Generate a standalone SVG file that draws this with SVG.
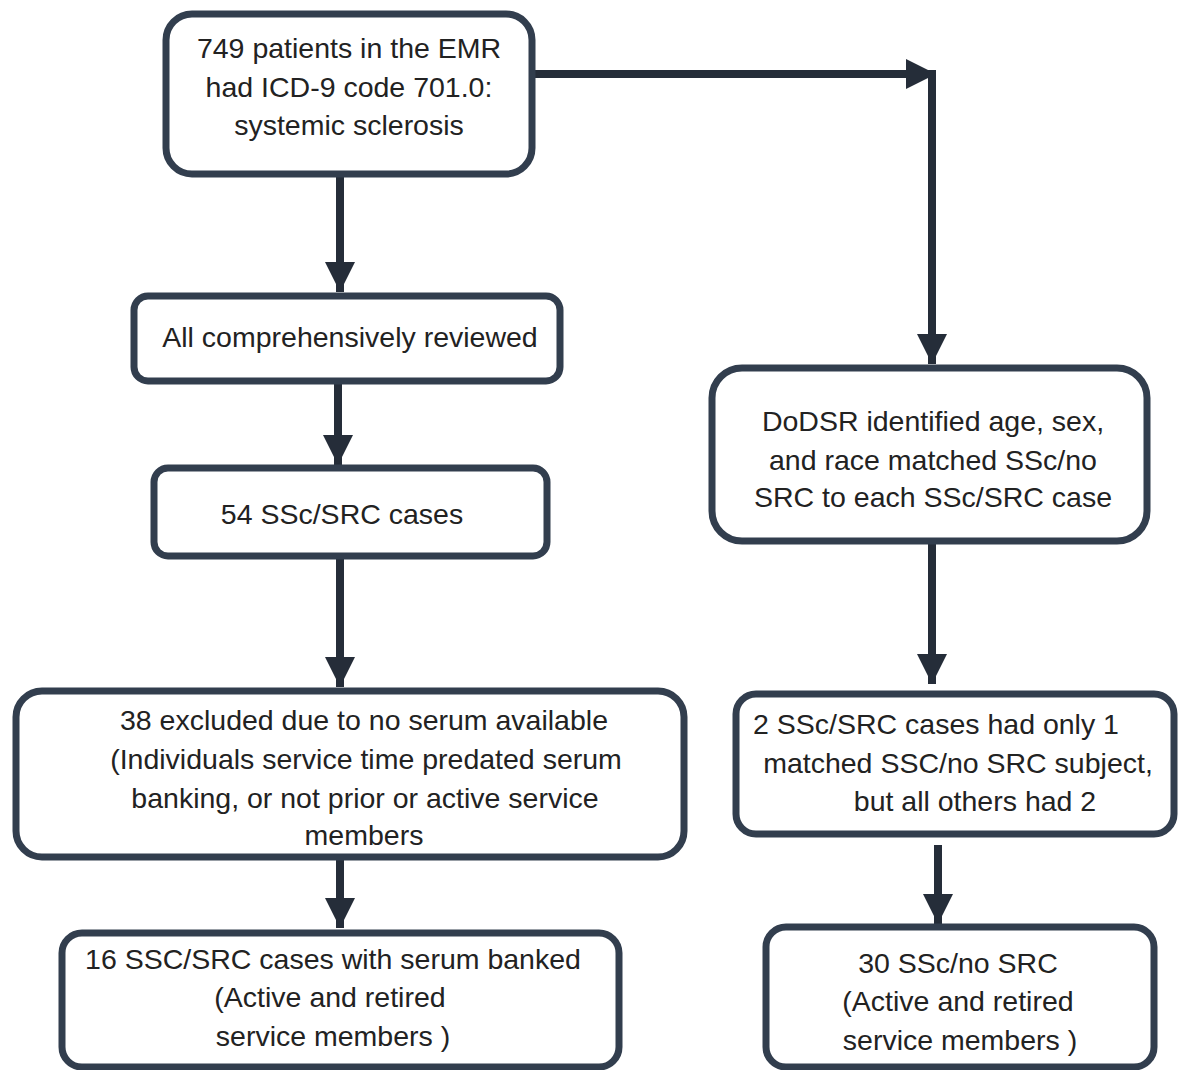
<svg xmlns="http://www.w3.org/2000/svg" width="1179" height="1070" viewBox="0 0 1179 1070">
<style>
.box{fill:#fff;stroke:#323e4e;stroke-width:7}
.t{font-family:"Liberation Sans",Arial,sans-serif;font-size:28.5px;fill:#222;text-anchor:middle}
.c{fill:none;stroke:#252d39;stroke-width:8}
</style>
<defs>
<marker id="ah" markerUnits="userSpaceOnUse" markerWidth="32" markerHeight="32" refX="30" refY="15" orient="auto">
<path d="M0,0 L30,15 L0,30 Z" fill="#252d39"/>
</marker>
</defs>
<rect width="1179" height="1070" fill="#fff"/>
<g id="connectors">
<line class="c" x1="340" y1="175" x2="340" y2="292" marker-end="url(#ah)"/>
<line class="c" x1="338" y1="381" x2="338" y2="465" marker-end="url(#ah)"/>
<line class="c" x1="340" y1="557" x2="340" y2="687" marker-end="url(#ah)"/>
<line class="c" x1="340" y1="858" x2="340" y2="928" marker-end="url(#ah)"/>
<line class="c" x1="533" y1="74" x2="936" y2="74" marker-end="url(#ah)"/>
<line class="c" x1="932" y1="70" x2="932" y2="364" marker-end="url(#ah)"/>
<line class="c" x1="932" y1="542" x2="932" y2="684" marker-end="url(#ah)"/>
<line class="c" x1="938" y1="845" x2="938" y2="924" marker-end="url(#ah)"/>
</g>
<g id="n1">
<rect class="box" x="166" y="14" width="366" height="160" rx="26"/>
<text class="t" x="349" y="58">749 patients in the EMR</text>
<text class="t" x="349" y="97">had ICD-9 code 701.0:</text>
<text class="t" x="349" y="135">systemic sclerosis</text>
</g>
<g id="n2">
<rect class="box" x="134" y="296" width="426" height="85" rx="14"/>
<text class="t" x="350" y="347">All comprehensively reviewed</text>
</g>
<g id="n3">
<rect class="box" x="154" y="468" width="393" height="88" rx="14"/>
<text class="t" x="342" y="524">54 SSc/SRC cases</text>
</g>
<g id="n4">
<rect class="box" x="16" y="691" width="668" height="166" rx="26"/>
<text class="t" x="364" y="730">38 excluded due to no serum available</text>
<text class="t" x="366" y="769">(Individuals service time predated serum</text>
<text class="t" x="365" y="808">banking, or not prior or active service</text>
<text class="t" x="364" y="845">members</text>
</g>
<g id="n5">
<rect class="box" x="62" y="933" width="557" height="134" rx="20"/>
<text class="t" x="333" y="969">16  SSC/SRC cases with serum banked</text>
<text class="t" x="330" y="1007">(Active and retired</text>
<text class="t" x="333" y="1046">service members )</text>
</g>
<g id="n6">
<rect class="box" x="712" y="368" width="435" height="173" rx="30"/>
<text class="t" x="933" y="431">DoDSR identified age, sex,</text>
<text class="t" x="933" y="470">and race matched SSc/no</text>
<text class="t" x="933" y="507">SRC to each SSc/SRC case</text>
</g>
<g id="n7">
<rect class="box" x="736" y="694" width="438" height="140" rx="20"/>
<text class="t" x="936" y="734">2 SSc/SRC cases had only 1</text>
<text class="t" x="958" y="773">matched SSC/no SRC subject,</text>
<text class="t" x="975" y="811">but all others had 2</text>
</g>
<g id="n8">
<rect class="box" x="766" y="927" width="388" height="140" rx="20"/>
<text class="t" x="958" y="973">30 SSc/no SRC</text>
<text class="t" x="958" y="1011">(Active and retired</text>
<text class="t" x="960" y="1050">service members )</text>
</g>
</svg>
